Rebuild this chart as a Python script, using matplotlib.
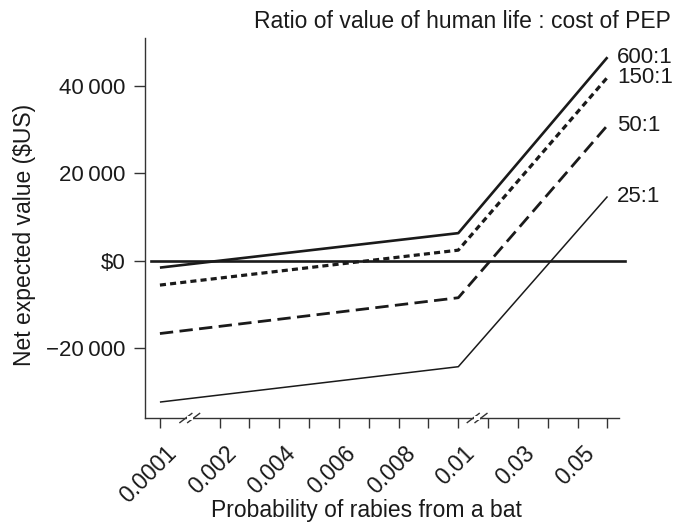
import numpy as np
import matplotlib
matplotlib.use("Agg")
import matplotlib.pyplot as plt
from matplotlib.transforms import blended_transform_factory, ScaledTranslation

plt.rcParams['font.family'] = ['Liberation Sans', 'DejaVu Sans']

# ---- data ----
x_points = [0.0001, 0.01, 0.06]
series_labels = ["600:1", "150:1", "50:1", "25:1"]
nev_600 = [-1600, 6300, 46600]
nev_150 = [-5600, 2400, 42000]
nev_50 = [-16700, -8500, 31000]
nev_25 = [-32400, -24300, 14700]

major_ticks = [0.0001, 0.002, 0.004, 0.006, 0.008, 0.01, 0.03, 0.05]
major_labels = ["0.0001", "0.002", "0.004", "0.006", "0.008", "0.01", "0.03", "0.05"]
minor_ticks = [0.003, 0.005, 0.007, 0.009, 0.02, 0.04, 0.06]
y_ticks = [-20000, 0, 20000, 40000]
y_labels = ["\u221220\u2009000", "$0", "20\u2009000", "40\u2009000"]
break_points = [0.00105, 0.0163]

# ---- broken piecewise-linear x scale ----
def fwd(x):
    x = np.asarray(x, float)
    return np.where(x < 0.002, (x - 0.0001) / 0.00095,
                    np.where(x <= 0.01, 2 + (x - 0.002) / 0.001,
                             10 + (x - 0.01) / 0.01))

def inv(p):
    p = np.asarray(p, float)
    return np.where(p < 2, 0.0001 + p * 0.00095,
                    np.where(p <= 10, 0.002 + (p - 2) * 0.001,
                             0.01 + (p - 10) * 0.01))

ink = '#1a1a1a'
fig = plt.figure(figsize=(6.75, 5.24), dpi=100)
ax = fig.add_axes([145 / 675, 1 - 418 / 524, (625.4 - 145) / 675, (418 - 38) / 524])
ax.set_xscale('function', functions=(fwd, inv))
ax.set_xlim(float(inv(-0.5)), float(inv(15.6)))
ax.set_ylim(-36050, 51000)

styles = [
    dict(color=ink, lw=1.9, ls='-'),
    dict(color=ink, lw=2.3, ls=(0, (1.9, 1.3))),
    dict(color=ink, lw=2.0, ls=(0, (4.8, 2.3))),
    dict(color=ink, lw=1.1, ls='-'),
]
all_series = [nev_600, nev_150, nev_50, nev_25]
for vals, lab, st in zip(all_series, series_labels, styles):
    ax.plot(x_points, vals, solid_capstyle='butt', dash_capstyle='butt', **st)
    ax.annotate(lab, xy=(x_points[-1], vals[-1]), xytext=(7, 0),
                textcoords='offset points', ha='left', va='center',
                fontsize=16, color=ink, annotation_clip=False)

# zero line
ax.plot([float(inv(-0.31)), float(inv(15.59))], [0, 0], color=ink, lw=1.9, clip_on=False)

for s in ['top', 'right']:
    ax.spines[s].set_visible(False)
for s in ['left', 'bottom']:
    ax.spines[s].set_linewidth(1.0)
    ax.spines[s].set_color('#333333')
ax.spines['bottom'].set_bounds(float(inv(-0.5)), float(inv(15.37)))

ax.set_xticks(major_ticks)
ax.set_xticklabels(major_labels, rotation=45, ha='right', va='top', rotation_mode='anchor')
ax.set_xticks(minor_ticks, minor=True)
ax.tick_params(axis='x', which='both', length=7, width=1.0, color='#333333',
               labelsize=16.5, labelcolor=ink, pad=6)
shift = ScaledTranslation(0.05, -0.06, fig.dpi_scale_trans)
for lbl in ax.get_xticklabels():
    lbl.set_transform(lbl.get_transform() + shift)
ax.set_yticks(y_ticks)
ax.set_yticklabels(y_labels)
ax.tick_params(axis='y', length=8, width=1.0, color='#333333', labelsize=16,
               labelcolor=ink, pad=6)

# axis breaks
trans = blended_transform_factory(ax.transData, ax.transAxes)
for bp in break_points:
    pc = float(fwd(bp))
    for off in (-0.13, 0.13):
        xs = inv([pc + off - 0.2, pc + off + 0.2])
        ax.plot(xs, [-0.012, 0.012], transform=trans, color='#333333', lw=1.0, clip_on=False)
    wx = inv([pc - 0.1, pc + 0.1])
    ax.fill_between(wx, -0.004, 0.004, transform=trans, color='white', lw=0, clip_on=False, zorder=3)

ax.set_xlabel("Probability of rabies from a bat", fontsize=16.5, color=ink, va='center')
ax.xaxis.set_label_coords((366 - 145) / 480.4, (418 - 510) / 380)
ax.set_ylabel("Net expected value ($US)", fontsize=16.5, color=ink, va='center')
ax.yaxis.set_label_coords((25 - 145) / 480.4, (418 - 235) / 380)

fig.text(671 / 675, 1 - 22 / 524, "Ratio of value of human life : cost of PEP",
         ha='right', va='center', fontsize=16.5, color=ink)

fig.savefig("out.png", dpi=100)
